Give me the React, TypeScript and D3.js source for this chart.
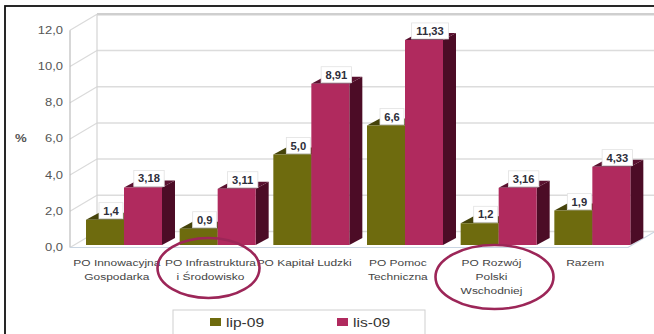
import React from "react";
import * as d3 from "d3";

const categories: string[][] = [
  ["PO Innowacyjna", "Gospodarka"],
  ["PO Infrastruktura", "i Środowisko"],
  ["PO Kapitał Ludzki"],
  ["PO Pomoc", "Techniczna"],
  ["PO Rozwój", "Polski", "Wschodniej"],
  ["Razem"],
];
const seriesNames = ["lip-09", "lis-09"];
const lipValues = [1.4, 0.9, 5.0, 6.6, 1.2, 1.9];
const lisValues = [3.18, 3.11, 8.91, 11.33, 3.16, 4.33];
const yTicks = [0, 2, 4, 6, 8, 10, 12];
const circledCategories = [1, 4];

const W = 654;
const H = 334;

const plLocale = d3.formatLocale({
  decimal: ",",
  thousands: " ",
  grouping: [3],
  currency: ["", " zł"],
});
const fmt1 = plLocale.format(".1f");
const fmt2 = plLocale.format(".2f");

// 3D depth of the walls and the bars
const WALL_DX = 27;
const WALL_DY = -16;
const BAR_DX = 13;
const BAR_DY = -7;
const BAR_W = 38;

const COLORS = {
  lip: { front: "#6e6b0e", top: "#45430a", side: "#3a3806" },
  lis: { front: "#b02a5e", top: "#5a1230", side: "#4c0c26" },
};

const x = d3
  .scaleBand<number>()
  .domain(d3.range(categories.length))
  .range([70, 632]);
const yAxis = d3.scaleLinear().domain([0, 12]).range([247.5, 30.3]);
const barBase = 245;
const barScale = d3.scaleLinear().domain([0, 12]).range([barBase, barBase - 12 * 18.1]);

function Stretch({
  x,
  y,
  sx = 1.25,
  children,
  ...rest
}: any) {
  return (
    <g transform={`translate(${x},${y}) scale(${sx},1)`}>
      <text x={0} y={0} {...rest}>
        {children}
      </text>
    </g>
  );
}

function textWidth(s: string) {
  let w = 0;
  for (const ch of s) w += ch === "," ? 3.2 : 6.4;
  return w;
}

function Bar({ x0, v, c }: { x0: number; v: number; c: { front: string; top: string; side: string } }) {
  const yt = barScale(v);
  const x1 = x0 + BAR_W;
  const front = `M${x0},${barBase}L${x0},${yt}L${x1},${yt}L${x1},${barBase}Z`;
  const top = `M${x0},${yt}L${x0 + BAR_DX},${yt + BAR_DY}L${x1 + BAR_DX},${yt + BAR_DY}L${x1},${yt}Z`;
  const side = `M${x1},${barBase}L${x1},${yt}L${x1 + BAR_DX},${yt + BAR_DY}L${x1 + BAR_DX},${barBase + BAR_DY}Z`;
  return (
    <g>
      <path d={side} fill={c.side} />
      <path d={top} fill={c.top} />
      <path d={front} fill={c.front} />
    </g>
  );
}

function ValueLabel({ x0, v, label }: { x0: number; v: number; label: string }) {
  const yt = barScale(v);
  const w = textWidth(label) + 8;
  const cx = x0 + BAR_W / 2 + 6;
  const h = 16;
  return (
    <g>
      <rect x={cx - w / 2} y={yt - h - 1} width={w} height={h} fill="#fff" stroke="#e2e2e2" strokeWidth={0.8} />
      <Stretch
        x={cx}
        y={yt - 5}
        sx={1.12}
        textAnchor="middle"
        fontFamily="Liberation Sans, Arial, sans-serif"
        fontWeight="bold"
        fontSize={10}
        fill="#2e2e3a"
      >
        {label}
      </Stretch>
    </g>
  );
}

export default function App() {
  const xLeft = 70;
  const xRight = 628;
  const backLeft = xLeft + WALL_DX;

  return (
    <svg
      width={W}
      height={H}
      viewBox={`0 0 ${W} ${H}`}
      style={{ position: "absolute", left: 0, top: 0, background: "#fff" }}
    >
      <rect x={0} y={0} width={W} height={H} fill="#fff" />
      {/* outer frame */}
      <rect x={5} y={6} width={W + 20} height={H + 20} fill="none" stroke="#111" strokeWidth={1.8} />

      {/* back wall grid */}
      {yTicks.map((t) => (
        <line
          key={"g" + t}
          x1={backLeft}
          x2={W}
          y1={yAxis(t) + WALL_DY}
          y2={yAxis(t) + WALL_DY}
          stroke={t === 12 ? "#cfcfcf" : "#dcdcdc"}
          strokeWidth={t === 12 ? 2.5 : 1.5}
        />
      ))}
      {/* side wall */}
      {yTicks.map((t) => (
        <line
          key={"s" + t}
          x1={xLeft}
          y1={yAxis(t)}
          x2={backLeft}
          y2={yAxis(t) + WALL_DY}
          stroke="#dadada"
          strokeWidth={1.2}
        />
      ))}
      <line x1={backLeft} x2={backLeft} y1={yAxis(12) + WALL_DY} y2={yAxis(0) + WALL_DY} stroke="#d4d4d4" strokeWidth={1.2} />
      <line x1={xLeft} x2={xLeft} y1={yAxis(12)} y2={yAxis(0)} stroke="#bdbdbd" strokeWidth={1.2} />
      {/* floor */}
      <path
        d={`M${xLeft},${yAxis(0)}L${xRight},${yAxis(0)}L${xRight + WALL_DX},${yAxis(0) + WALL_DY}`}
        fill="none"
        stroke="#c9d5e2"
        strokeWidth={1.2}
      />

      {/* y tick labels */}
      {yTicks.map((t) => (
        <Stretch
          key={"t" + t}
          x={63}
          y={yAxis(t) + 3.5}
          sx={1.3}
          textAnchor="end"
          fontFamily="Liberation Sans, Arial, sans-serif"
          fontSize={10}
          fill="#555"
        >
          {fmt1(t)}
        </Stretch>
      ))}
      <Stretch
        x={15}
        y={142}
        sx={1.2}
        fontFamily="Liberation Sans, Arial, sans-serif"
        fontSize={11}
        fontWeight="bold"
        fill="#555"
      >
        %
      </Stretch>

      {/* bars */}
      {categories.map((_, i) => {
        const x0 = (x(i) as number) + 16;
        return (
          <g key={"b" + i}>
            <Bar x0={x0} v={lipValues[i]} c={COLORS.lip} />
            <Bar x0={x0 + BAR_W} v={lisValues[i]} c={COLORS.lis} />
          </g>
        );
      })}
      {categories.map((_, i) => {
        const x0 = (x(i) as number) + 16;
        return (
          <g key={"l" + i}>
            <ValueLabel x0={x0} v={lipValues[i]} label={fmt1(lipValues[i])} />
            <ValueLabel x0={x0 + BAR_W} v={lisValues[i]} label={fmt2(lisValues[i])} />
          </g>
        );
      })}

      {/* category labels */}
      {categories.map((lines, i) => {
        const cx = (x(i) as number) + x.bandwidth() / 2;
        return (
          <g key={"c" + i}>
            {lines.map((ln, j) => (
              <Stretch
                key={j}
                x={cx}
                y={265.5 + j * 14}
                sx={1.26}
                textAnchor="middle"
                fontFamily="Liberation Sans, Arial, sans-serif"
                fontSize={9.5}
                fill="#444"
              >
                {ln}
              </Stretch>
            ))}
          </g>
        );
      })}

      {/* highlight ellipses */}
      {circledCategories.map((i) => {
        const cx = (x(i) as number) + x.bandwidth() / 2;
        const nLines = categories[i].length;
        const ry = nLines > 2 ? 32 : 30;
        const cy = nLines > 2 ? 277 : 268;
        const rx = nLines > 2 ? 59 : 51;
        return (
          <ellipse
            key={"e" + i}
            cx={cx + (nLines > 2 ? 3 : -2)}
            cy={cy}
            rx={rx}
            ry={ry}
            fill="none"
            stroke="#9c2658"
            strokeWidth={2.6}
          />
        );
      })}

      {/* legend */}
      <rect x={173} y={310} width={252} height={40} fill="#fff" stroke="#cfcfcf" strokeWidth={1} />
      {seriesNames.map((name, k) => {
        const lx = 210 + k * 127;
        const c = k === 0 ? COLORS.lip.front : COLORS.lis.front;
        return (
          <g key={"lg" + k}>
            <rect x={lx} y={318} width={11} height={8} fill={c} />
            <Stretch
              x={lx + 16}
              y={327}
              sx={1.3}
              fontFamily="Liberation Sans, Arial, sans-serif"
              fontSize={12}
              fill="#333"
            >
              {name}
            </Stretch>
          </g>
        );
      })}
    </svg>
  );
}
